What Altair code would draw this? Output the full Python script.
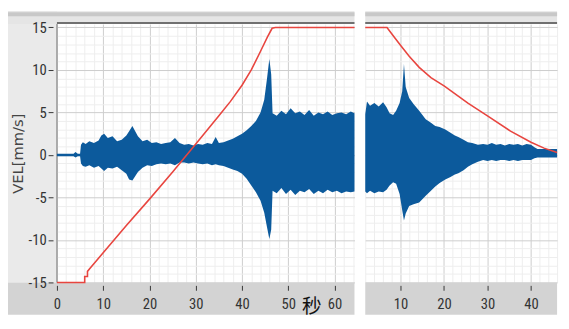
import altair as alt
import pandas as pd

# ---------------- data ----------------
# Left panel: vibration envelope (upper / lower) over time [s]
L_T = [0, 3.6, 4.0, 4.5, 5.0, 5.2, 5.6, 6.2, 7.0, 8.0, 9.0, 9.6, 10.2, 11.0, 12.0, 13.0, 14.0,
       15.0, 15.6, 16.3, 16.8, 17.5, 18.5, 19.5, 20.5, 21.5, 22.5, 23.5, 24.5, 25.5, 26.5,
       27.5, 28.5, 29.5, 30.5, 31.5, 32.5, 33.5, 34.3, 35.0, 36.0, 37.0, 38.0, 39.0, 40.0,
       41.0, 42.0, 43.0, 44.0, 44.8, 45.4, 45.9, 46.3, 46.6, 47.5, 48.5, 49.5, 50.5, 51.5,
       52.5, 53.5, 54.5, 55.5, 56.5, 57.5, 58.5, 59.5, 60.5, 61.5, 62.5, 63.5, 64.3]
L_UP = [0.15, 0.15, 0.35, 0.15, 0.15, 1.2, 1.5, 1.3, 1.6, 1.4, 1.7, 2.3, 2.5, 2.0, 2.2, 1.6, 1.8,
        2.3, 2.8, 3.4, 2.9, 2.2, 1.6, 1.8, 1.4, 1.5, 1.3, 1.4, 1.5, 2.0, 1.4,
        1.2, 1.3, 1.1, 1.3, 1.2, 1.4, 1.3, 2.1, 1.4, 1.5, 1.7, 1.9, 2.2, 2.5,
        2.9, 3.4, 4.0, 5.0, 6.5, 9.0, 11.3, 9.5, 4.9, 4.6, 5.2, 4.8, 5.5, 4.9,
        5.1, 4.7, 5.3, 4.6, 5.0, 4.8, 5.1, 4.7, 4.9, 5.0, 4.8, 5.1, 4.9]
L_LO = [-0.15, -0.15, -0.3, -0.15, -0.15, -1.0, -1.3, -1.4, -1.2, -1.5, -1.3, -1.6, -1.9, -1.5, -1.6, -1.4, -1.8,
        -2.2, -2.9, -3.0, -2.6, -2.0, -1.5, -1.2, -1.3, -1.1, -1.0, -1.1, -1.0, -1.2, -0.9,
        -0.9, -1.0, -0.9, -1.0, -1.1, -1.0, -1.2, -1.1, -1.2, -1.3, -1.5, -1.7, -1.9, -2.2,
        -2.8, -3.6, -4.4, -5.4, -6.8, -8.5, -9.9, -8.8, -4.2, -4.5, -3.9, -4.6, -4.1, -4.7,
        -4.2, -4.4, -4.0, -4.6, -4.2, -4.5, -4.1, -4.4, -4.2, -4.5, -4.3, -4.4, -4.3]
# Left panel: red speed curve
L_RED_T = [0, 6.0, 6.0, 6.6, 6.6, 7.2, 15, 20, 25, 30, 35, 37.5, 40, 42, 44, 45.5, 46.5, 47.2, 64.3]
L_RED_V = [-15, -15, -14.3, -14.3, -13.7, -13.3, -8.3, -5.2, -2.0, 1.3, 4.6, 6.3, 8.2, 10.0, 12.2,
           13.9, 14.9, 15, 15]

# Right panel: vibration envelope
R_T = [1.9, 2.3, 3.0, 4.0, 5.0, 6.0, 6.8, 7.5, 8.3, 9.0, 9.8, 10.4, 10.8, 11.2, 12.0, 13.0,
       14.3, 15.8, 17.0, 18.0, 19.0, 20.3, 21.5, 22.5, 23.3, 24.5, 25.5, 26.5, 27.8, 29.0,
       30.0, 31.0, 32.0, 33.0, 34.0, 35.0, 36.0, 37.0, 38.0, 39.0, 40.0, 40.8, 41.5, 43.0,
       44.5, 46.0]
R_UP = [4.8, 6.3, 5.8, 6.1, 5.7, 6.2, 5.6, 4.9, 4.7, 5.2, 6.1, 7.5, 10.7, 8.0, 6.7, 6.0,
        5.2, 4.2, 3.8, 3.4, 3.3, 3.0, 2.6, 2.3, 2.1, 1.8, 1.5, 1.4, 1.2, 1.3,
        1.2, 1.4, 1.2, 1.3, 1.1, 1.3, 1.2, 1.3, 1.1, 1.3, 1.2, 0.9, 0.7, 0.7,
        0.7, 0.7]
R_LO = [-4.3, -4.5, -4.2, -4.5, -4.3, -4.4, -4.1, -3.6, -3.2, -3.4, -4.6, -6.5, -7.7, -6.9, -6.0, -5.8,
        -5.6, -4.8, -4.2, -3.7, -3.3, -2.9, -2.6, -2.3, -2.15, -1.8, -1.4, -1.1, -0.8, -0.6,
        -0.7, -0.6, -0.7, -0.6, -0.6, -0.7, -0.6, -0.7, -0.6, -0.6, -0.6, -0.4, -0.3, -0.3,
        -0.3, -0.3]
# Right panel: red speed curve
R_RED_T = [1.9, 6.9, 8.5, 10, 12, 14.3, 17, 20.1, 25.5, 30, 35.3, 40, 43, 46]
R_RED_V = [15, 15, 13.9, 12.9, 11.6, 10.3, 9.1, 8.1, 6.1, 4.6, 2.8, 1.5, 0.8, 0.3]

Y_TICKS = [-15, -10, -5, 0, 5, 10, 15]
L_XTICKS = [0, 10, 20, 30, 40, 50, 60]
R_XTICKS = [10, 20, 30, 40]
L_XGRID = list(range(0, 65, 2))
R_XGRID = list(range(2, 47, 2))
Y_GRID = list(range(-15, 16, 1))
Y_TITLE = "VEL[mm/s]"
X_TITLE = "秒"

L_DOMAIN = [0, 64.3]
R_DOMAIN = [1.9, 46.0]
Y_DOMAIN = [-15, 15.4]

# ---------------- styling ----------------
H = 264
LABEL_FONT = "Liberation Sans Narrow, Arial Narrow, Roboto Condensed, Liberation Sans"
BLUE = "#0c5a9c"
RED = "#e8453f"


def panel(t, up, lo, rt, rv, xdom, xticks, xgrid, w, show_y):
    env = pd.DataFrame({"t": t, "hi": up, "lo": lo})
    red = pd.DataFrame({"t": rt, "v": rv})
    one = pd.DataFrame({"k": [0]})
    xs = alt.Scale(domain=xdom, nice=False, zero=False)
    ys = alt.Scale(domain=Y_DOMAIN, nice=False, zero=False)
    lx = -50 if show_y else 0

    layers = []
    # decorative frame strips (LabVIEW-like graph frame)
    if show_y:
        layers.append(alt.Chart(one).mark_rect(color="#eaeaea").encode(
            x=alt.value(lx), x2=alt.value(0), y=alt.value(-13), y2=alt.value(H)))
    layers.append(alt.Chart(one).mark_rect(color="#e5e5e5").encode(
        x=alt.value(lx), x2=alt.value(w), y=alt.value(-13), y2=alt.value(0)))
    layers.append(alt.Chart(one).mark_rect(color="#c8c8c8").encode(
        x=alt.value(lx), x2=alt.value(w), y=alt.value(-12), y2=alt.value(-8)))
    layers.append(alt.Chart(one).mark_rect(color="#d3d3d3").encode(
        x=alt.value(lx), x2=alt.value(w), y=alt.value(H), y2=alt.value(H + 33)))
    layers.append(alt.Chart(one).mark_rule(color="#707070", strokeWidth=2).encode(
        x=alt.value(0), x2=alt.value(w), y=alt.value(-1)))

    # grid layer (major + minor grid)
    grid = alt.Chart(red).mark_line(opacity=0).encode(
        x=alt.X("t:Q", scale=xs, axis=alt.Axis(
            values=xgrid, grid=True, labels=False, ticks=False, domain=False, title=None,
            orient="top", minExtent=0, maxExtent=0, offset=0, zindex=0,
            gridColor={"condition": {"test": "datum.value % 10 === 0", "value": "#cdcdcd"},
                       "value": "#eeeeee"})),
        y=alt.Y("v:Q", scale=ys, axis=alt.Axis(
            values=Y_GRID, grid=True, labels=False, ticks=False, domain=False, title=None,
            orient="right", minExtent=0, maxExtent=0, offset=0, zindex=0,
            gridColor={"condition": {"test": "datum.value % 5 === 0", "value": "#cdcdcd"},
                       "value": "#eeeeee"})),
    )
    layers.append(grid)

    if show_y:
        layers.append(alt.Chart(one).mark_rule(color="#9a9a9a", strokeWidth=1.5).encode(
            x=alt.value(0), y=alt.value(0), y2=alt.value(H)))

    xaxis_kw = dict(values=xticks, grid=False, orient="bottom", domain=False, tickSize=5,
                    tickColor="#333333", offset=3, labelPadding=7, labelFont=LABEL_FONT,
                    labelFontSize=15, labelColor="#333333", labelFlush=False,
                    labelOverlap=False, zindex=1)
    if show_y:
        xaxis_kw.update(title=X_TITLE, titleFont="Noto Sans CJK SC", titleFontSize=20,
                        titleFontWeight="normal", titleColor="#111111", titleX=260,
                        titleY=22, titleBaseline="middle", titleAlign="center")
    else:
        xaxis_kw.update(title=None)

    if show_y:
        yaxis = alt.Axis(values=Y_TICKS, grid=False, orient="left", domain=False, tickSize=5,
                         tickColor="#333333", offset=4, labelPadding=2, labelFont=LABEL_FONT,
                         labelFontSize=15, labelColor="#333333", labelFlush=False,
                         labelOverlap=False, labelExpr="'' + datum.value",
                         title=Y_TITLE, titleFont="DejaVu Sans", titleFontSize=15,
                         titleFontWeight="normal", titleColor="#444444", titleX=-36,
                         titleY=H / 2, titleAngle=270, titleBaseline="middle",
                         titleAlign="center", zindex=1)
    else:
        yaxis = None

    area = alt.Chart(env).mark_area(color=BLUE, opacity=1).encode(
        x=alt.X("t:Q", scale=xs, axis=alt.Axis(**xaxis_kw)),
        y=alt.Y("hi:Q", scale=ys, axis=yaxis),
        y2="lo:Q",
    )
    line = alt.Chart(red).mark_line(color=RED, strokeWidth=1.6).encode(
        x=alt.X("t:Q", scale=xs, axis=None),
        y=alt.Y("v:Q", scale=ys, axis=None),
    )
    layers += [area, line]
    return alt.layer(*layers).resolve_axis(x="independent", y="independent").properties(
        width=w, height=H)


left = panel(L_T, L_UP, L_LO, L_RED_T, L_RED_V, L_DOMAIN, L_XTICKS, L_XGRID, 304, True)
right = panel(R_T, R_UP, R_LO, R_RED_T, R_RED_V, R_DOMAIN, R_XTICKS, R_XGRID, 196, False)

chart = alt.hconcat(left, right, spacing=3).configure(
    background="white", padding=0
).configure_view(stroke=None, fill="white")

chart.save("out.html", embed_options={"renderer": "svg", "actions": False})
